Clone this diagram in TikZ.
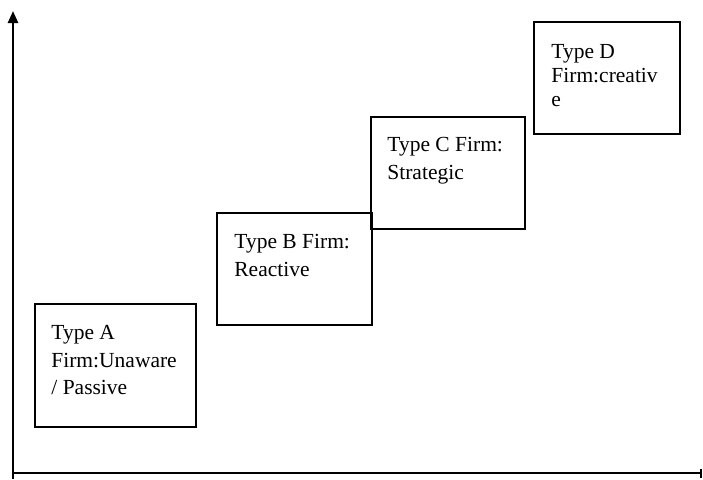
\documentclass[tikz,border=0pt]{standalone}
\usepackage{fontspec}
\setmainfont{Liberation Serif}
\usetikzlibrary{positioning,arrows.meta}
\tikzstyle{firm} = [draw, rectangle, line width=1.6pt, inner sep=0pt]
\tikzstyle{firmtext} = [align=left, inner sep=0pt, font=\fontsize{21.5}{27.5}\selectfont]
\tikzstyle{axis} = [line width=2.4pt]

\begin{document}
\begin{tikzpicture}[x=1pt, y=-1pt]
	\useasboundingbox (0,0) rectangle (703,479);
	\coordinate (origin) at (13,473);
	\coordinate (ybot) at (13,479);
	\coordinate (ytop) at (13,11);
	\coordinate (xend) at (702,473);
	\draw [axis,-{Triangle[width=10pt,length=12pt]}] (ybot) -- (ytop);
	\draw [axis,-{Bar[width=9pt]}] (origin) -- (xend);
	\node (boxA) [firm, minimum width=161pt, minimum height=123pt] at (115.5,365.5) {};
	\node (boxB) [firm, minimum width=155pt, minimum height=112pt] at (294.5,269) {};
	\node (boxC) [firm, minimum width=154pt, minimum height=112pt] at (448,173) {};
	\node (boxD) [firm, minimum width=146pt, minimum height=112pt] at (607,78) {};
	\node (textA) [firmtext, below right=22pt and 17pt of boxA.north west] {Type A\\Firm:Unaware\\/ Passive};
	\node (textB) [firmtext, below right=22pt and 18pt of boxB.north west] {Type B Firm:\\Reactive};
	\node (textC) [firmtext, below right=21pt and 17pt of boxC.north west] {Type C Firm:\\Strategic};
	\node (textD) [firmtext, font=\fontsize{21.5}{24}\selectfont, below right=23pt and 18pt of boxD.north west] {Type D\\Firm:creativ\\e};
\end{tikzpicture}
\end{document}
